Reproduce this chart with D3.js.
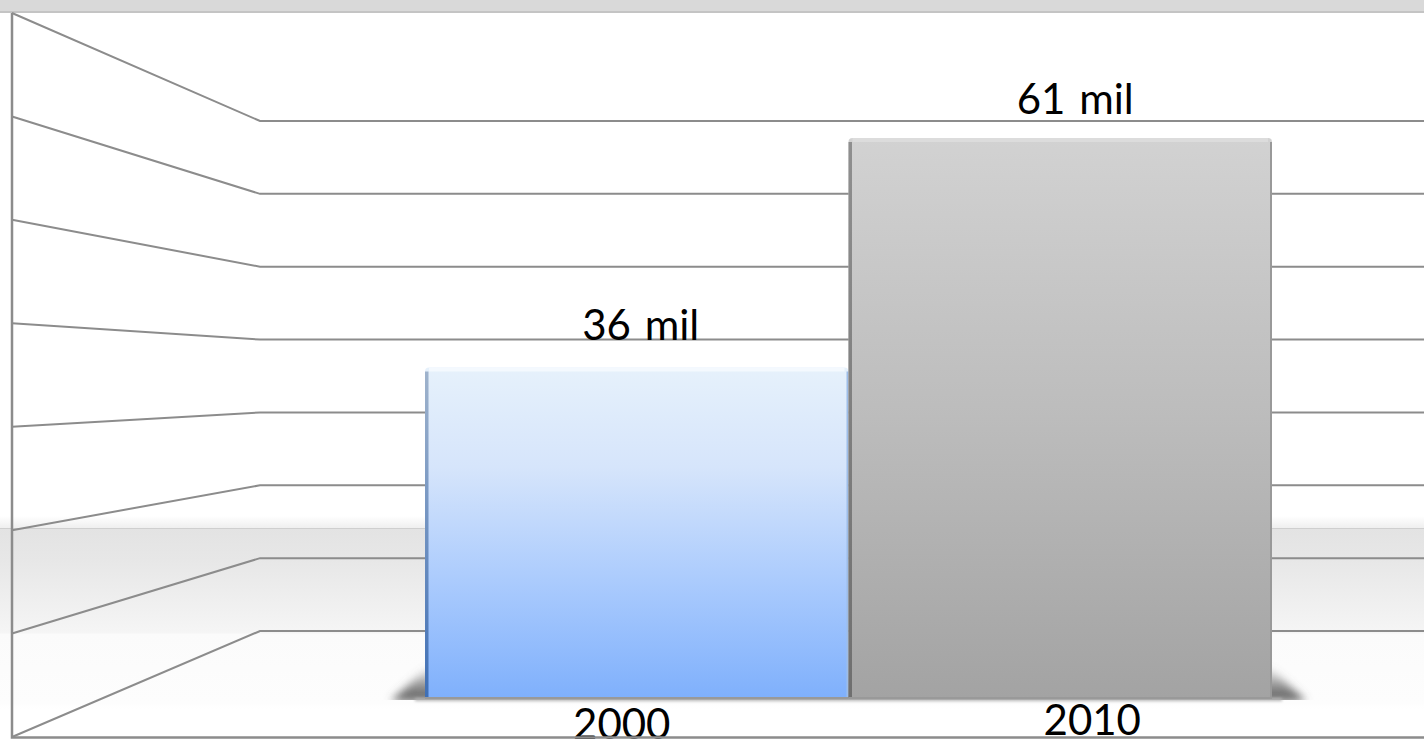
<!DOCTYPE html>
<html>
<head>
<meta charset="utf-8">
<script src="https://cdn.jsdelivr.net/npm/d3@7"></script>
<style>
  html, body { margin: 0; padding: 0; background: #fff; overflow: hidden; }
  svg { display: block; }
</style>
</head>
<body>
<svg id="chart" width="1424" height="741"></svg>
<script>
// chart data
var categories = ['2000', '2010'];
var values = [36, 61];
var valueLabels = ['36 mil', '61 mil'];
// gridline levels, bottom to top (the axis has no printed numbers)
var gridLevels = [0, 1, 2, 3, 4, 5, 6, 7];

var svg = d3.select('#chart'),
  width = +svg.attr('width'),
  height = +svg.attr('height'),
  wallX = 12,
  backX = 260,
  baseY = 698;

var x = d3.scaleBand().domain(categories).range([425, 1272]).padding(0);
var y = d3.scaleLinear().domain([0, 61]).range([baseY, 138]);
// same levels on the back wall and on the near edge of the side wall
var yBack = d3.scaleLinear().domain([0, 7]).range([631, 121]);
var yWall = d3.scaleLinear().domain([0, 7]).range([737, 13]);

var defs = svg.append('defs');

function linearGradient(id, stops, horizontal) {
  var g = defs.append('linearGradient').attr('id', id)
    .attr('x1', 0).attr('y1', 0)
    .attr('x2', horizontal ? 1 : 0).attr('y2', horizontal ? 0 : 1);
  stops.forEach(function (s) {
    g.append('stop').attr('offset', s[0]).attr('stop-color', s[1]).attr('stop-opacity', s[2] === undefined ? 1 : s[2]);
  });
}

linearGradient('floorFill', [[0, '#e3e3e3'], [0.15, '#e7e7e7'], [0.49, '#f5f5f5'], [0.5, '#fbfbfb'], [0.82, '#fdfdfd'], [0.85, '#fff'], [1, '#fff']]);
linearGradient('fadeUp', [[0, '#e8e8e8', 0], [1, '#e8e8e8', 0.7]]);
linearGradient('bar2000', [[0, '#e6f1fb'], [0.3, '#d6e5fb'], [0.62, '#aecdfd'], [1, '#7fb0fc']]);
linearGradient('bar2010', [[0, '#d2d2d2'], [0.5, '#bcbcbc'], [1, '#a3a3a3']]);
linearGradient('edge2000', [[0, '#9fb3cc'], [1, '#3f6fb5']]);
linearGradient('edge2010', [[0, '#8f8f8f'], [1, '#6f6f6f']]);
linearGradient('shadowFill', [[0, '#777', 0], [0.55, '#6a6a6a', 0.7], [1, '#555', 1]]);
defs.append('filter').attr('id', 'blur').attr('x', '-20%').attr('y', '-100%').attr('width', '140%').attr('height', '300%')
  .append('feGaussianBlur').attr('stdDeviation', 4);
defs.append('filter').attr('id', 'blurThin').attr('x', '-5%').attr('y', '-300%').attr('width', '110%').attr('height', '700%')
  .append('feGaussianBlur').attr('stdDeviation', 1.5);

// background: top band, floor
svg.append('rect').attr('width', width).attr('height', height).attr('fill', '#fff');
svg.append('rect').attr('y', 516).attr('width', width).attr('height', 12).attr('fill', 'url(#fadeUp)');
svg.append('rect').attr('y', 528).attr('width', width).attr('height', height - 528).attr('fill', 'url(#floorFill)');
svg.append('line').attr('x1', 0).attr('x2', width).attr('y1', 528.5).attr('y2', 528.5).attr('stroke', '#cfcfcf');
svg.append('rect').attr('width', width).attr('height', 11).attr('fill', '#d9d9d9');
svg.append('rect').attr('y', 11).attr('width', width).attr('height', 2).attr('fill', '#c4c4c4');

// gridlines: back wall and side wall
var line = d3.line().x(function (d) { return d[0]; }).y(function (d) { return d[1]; });
svg.append('g').selectAll('path').data(gridLevels).enter().append('path')
  .attr('d', function (d) {
    return line([[wallX, yWall(d)], [backX, yBack(d)], [width, yBack(d)]]);
  })
  .attr('fill', 'none')
  .attr('stroke', '#8c8c8c')
  .attr('stroke-width', 2);

// soft shadow on the floor, clipped so it stops at the foot of the bars
var sx0 = x(categories[0]), sx1 = x(categories[1]) + x.bandwidth();
defs.append('clipPath').attr('id', 'floorClip').append('rect')
  .attr('x', 0).attr('y', 600).attr('width', width).attr('height', baseY + 2 - 600);
svg.append('g').attr('clip-path', 'url(#floorClip)').append('path')
  .attr('d', line([[sx0 - 34, baseY + 3], [sx0 + 4, baseY - 32], [sx1 - 4, baseY - 32], [sx1 + 34, baseY + 3]]) + 'Z')
  .attr('fill', 'url(#shadowFill)')
  .attr('filter', 'url(#blur)');
svg.append('rect')
  .attr('x', sx0 - 10).attr('y', baseY).attr('width', sx1 - sx0 + 20).attr('height', 3)
  .attr('fill', '#b0b0b0')
  .attr('filter', 'url(#blurThin)');

// bars
var bars = svg.append('g').selectAll('g').data(values).enter().append('g');
bars.append('rect')
  .attr('x', function (d, i) { return x(categories[i]); })
  .attr('y', function (d) { return y(d); })
  .attr('width', x.bandwidth())
  .attr('height', function (d) { return baseY - y(d); })
  .attr('rx', 4)
  .attr('fill', function (d, i) { return 'url(#bar' + categories[i] + ')'; });
// darker left edge and light top/right edges
bars.append('rect')
  .attr('x', function (d, i) { return x(categories[i]); })
  .attr('y', function (d) { return y(d) + 4; })
  .attr('width', 3.5)
  .attr('height', function (d) { return baseY - y(d) - 4; })
  .attr('fill', function (d, i) { return 'url(#edge' + categories[i] + ')'; });
bars.append('rect')
  .attr('x', function (d, i) { return x(categories[i]) + 4; })
  .attr('y', function (d) { return y(d); })
  .attr('width', x.bandwidth() - 8)
  .attr('height', 4)
  .attr('fill', function (d, i) { return i === 0 ? '#f4f9fe' : '#dcdcdc'; });
bars.append('rect')
  .attr('x', function (d, i) { return x(categories[i]) + x.bandwidth() - 2; })
  .attr('y', function (d) { return y(d) + 4; })
  .attr('width', 2)
  .attr('height', function (d) { return baseY - y(d) - 4; })
  .attr('fill', function (d, i) { return i === 0 ? '#9dbde8' : '#999'; });
bars.append('rect')
  .attr('x', function (d, i) { return x(categories[i]); })
  .attr('y', baseY - 1)
  .attr('width', x.bandwidth())
  .attr('height', 2)
  .attr('fill', '#999');

// text offsets follow the picture, the labels are not centred on the bars
var labelDx = [4, 15];
var labelDy = [28, 24];
var tickDx = [-15, 32];
var tickY = [739, 735];
var textStyle = function (sel) {
  sel.attr('text-anchor', 'middle')
    .attr('font-family', 'Lato, "Open Sans", sans-serif')
    .attr('font-size', '42px')
    .attr('word-spacing', '3px')
    .attr('fill', '#000');
};

svg.append('g').selectAll('text').data(valueLabels).enter().append('text')
  .attr('x', function (d, i) { return x(categories[i]) + x.bandwidth() / 2 + labelDx[i]; })
  .attr('y', function (d, i) { return y(values[i]) - labelDy[i]; })
  .text(function (d) { return d; })
  .call(textStyle);

svg.append('g').selectAll('text').data(categories).enter().append('text')
  .attr('x', function (d) { return x(d) + x.bandwidth() / 2; })
  .attr('dx', function (d, i) { return tickDx[i]; })
  .attr('y', function (d, i) { return tickY[i]; })
  .text(function (d) { return d; })
  .call(textStyle);

// frame goes over the text, the 2000 label touches it
svg.append('path')
  .attr('d', line([[wallX, 13], [wallX, 737.5], [width, 737.5]]))
  .attr('fill', 'none').attr('stroke', '#8c8c8c').attr('stroke-width', 2.5);
</script>
</body>
</html>
